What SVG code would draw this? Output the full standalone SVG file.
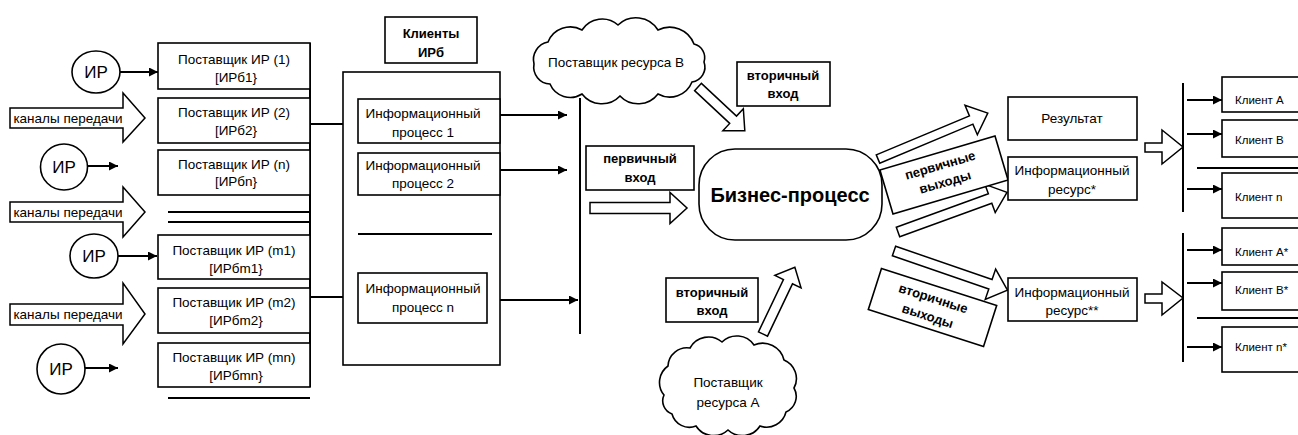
<svg xmlns="http://www.w3.org/2000/svg" width="1298" height="435" viewBox="0 0 1298 435">
  <style>
    .box { fill: #fff; stroke: #000; stroke-width: 1.6; }
    .blk { fill: #fff; stroke: #000; stroke-width: 1.5; }
    .ln { fill: none; stroke: #000; stroke-width: 2; }
    .arr { fill: none; stroke: #000; stroke-width: 2; marker-end: url(#ah); }
    .t { font-family: "Liberation Sans", Arial, sans-serif; font-size: 13.5px; text-anchor: middle; fill: #000; }
    .b { font-weight: bold; font-size: 13px; }
    .s { font-size: 11.5px; text-anchor: start; }
    .ir { font-size: 17px; }
    .big { font-size: 20px; font-weight: bold; }
  </style>
  <defs>
    <marker id="ah" viewBox="0 0 10 10" refX="10" refY="5" markerWidth="9" markerHeight="9" markerUnits="userSpaceOnUse" orient="auto">
      <path d="M0,0 L10,5 L0,10 z" fill="#000"/>
    </marker>
  </defs>

  <!-- connectors -->
  <g id="connectors">
    <!-- sources to suppliers -->
    <line class="arr" x1="120" y1="72" x2="158" y2="72"/>
    <line class="arr" x1="87" y1="166" x2="118" y2="166"/>
    <line class="arr" x1="118" y1="256" x2="157" y2="256"/>
    <line class="arr" x1="85" y1="368" x2="118" y2="368"/>
    <!-- small arrows inside supplier boxes -->
    <line class="arr" x1="272" y1="78" x2="305" y2="78"/>
    <line class="arr" x1="272" y1="130" x2="305" y2="130"/>
    <line class="arr" x1="272" y1="182" x2="305" y2="182"/>
    <line class="arr" x1="272" y1="268" x2="305" y2="268"/>
    <line class="arr" x1="272" y1="317" x2="305" y2="317"/>
    <line class="arr" x1="272" y1="372" x2="305" y2="372"/>
    <!-- supplier column edge and separators -->
    <line class="ln" x1="310" y1="43" x2="310" y2="387"/>
    <line class="ln" x1="168" y1="212" x2="310" y2="212"/>
    <line class="ln" x1="168" y1="222" x2="310" y2="222"/>
    <line class="ln" x1="168" y1="398" x2="310" y2="398"/>
    <!-- suppliers to information processes -->
    <line class="arr" x1="310" y1="124" x2="358" y2="124"/>
    <line class="arr" x1="310" y1="297" x2="358" y2="297"/>
    <!-- information processes to collector -->
    <line class="arr" x1="500" y1="115" x2="567" y2="115"/>
    <line class="arr" x1="500" y1="170" x2="567" y2="170"/>
    <line class="arr" x1="500" y1="300" x2="578" y2="300"/>
    <line class="ln" x1="580" y1="98" x2="580" y2="334"/>
    <!-- client distribution -->
    <line class="ln" x1="1183" y1="83" x2="1183" y2="212"/>
    <line class="ln" x1="1183" y1="233" x2="1183" y2="362"/>
    <line class="ln" x1="1197" y1="168" x2="1298" y2="168"/>
    <line class="ln" x1="1197" y1="318" x2="1298" y2="318"/>
    <line class="arr" x1="1187" y1="100" x2="1222" y2="100"/>
    <line class="arr" x1="1187" y1="134" x2="1222" y2="134"/>
    <line class="arr" x1="1187" y1="189" x2="1222" y2="189"/>
    <line class="arr" x1="1187" y1="250" x2="1222" y2="250"/>
    <line class="arr" x1="1187" y1="283" x2="1222" y2="283"/>
    <line class="arr" x1="1187" y1="347" x2="1222" y2="347"/>

    <!-- block arrows -->
    <polygon class="blk" transform="translate(698,87) rotate(43)" points="0,-5 48,-5 48,-15 64,0 48,15 48,5 0,5"/>
    <polygon class="blk" transform="translate(590,208)" points="0,-5.5 80,-5.5 80,-15.5 97,0 80,15.5 80,5.5 0,5.5"/>
    <polygon class="blk" transform="translate(763,334) rotate(-64.5)" points="0,-5 58,-5 58,-14.5 74,0 58,14.5 58,5 0,5"/>
    <polygon class="blk" transform="translate(878,159) rotate(-22.7)" points="0,-4.5 101,-4.5 101,-16 119,0 101,16 101,4.5 0,4.5"/>
    <polygon class="blk" transform="translate(898,232) rotate(-20)" points="0,-5 98,-5 98,-15 116,0 98,15 98,5 0,5"/>
    <polygon class="blk" transform="translate(894,251) rotate(19)" points="0,-5 102,-5 102,-16 120,0 102,16 102,5 0,5"/>
    <polygon class="blk" points="1145,143 1162,143 1162,130 1183,147 1162,164 1162,152 1145,152"/>
    <polygon class="blk" points="1145,294 1162,294 1162,282 1183,298 1162,315 1162,303 1145,303"/>
  </g>

  <!-- information resource sources -->
  <g id="ir1"><ellipse class="box" cx="96" cy="72" rx="24" ry="21"/><text class="t ir" x="96" y="78">ИР</text></g>
  <g id="ir2"><ellipse class="box" cx="64" cy="167" rx="23.5" ry="23"/><text class="t ir" x="64" y="173">ИР</text></g>
  <g id="ir3"><ellipse class="box" cx="94" cy="256" rx="24" ry="22"/><text class="t ir" x="94" y="262">ИР</text></g>
  <g id="ir4"><ellipse class="box" cx="61" cy="369" rx="24" ry="25"/><text class="t ir" x="61" y="375">ИР</text></g>

  <!-- transmission channels -->
  <g id="channel1"><polygon class="blk" points="10,108 123,108 123,93 145,118 123,142 123,128 10,128"/><text class="t" x="68" y="123">каналы передачи</text></g>
  <g id="channel2"><polygon class="blk" points="10,202 123,202 123,187 145,212 123,237 123,222 10,222"/><text class="t" x="68" y="217">каналы передачи</text></g>
  <g id="channel3"><polygon class="blk" points="10,304 123,304 123,283 145,314 123,344 123,325 10,325"/><text class="t" x="68" y="319">каналы передачи</text></g>

  <!-- suppliers -->
  <g id="sup1"><rect class="box" x="158" y="43" width="152" height="46"/><text class="t" x="234" y="64">Поставщик ИР (1)</text><text class="t" x="236" y="82">[ИРб1}</text></g>
  <g id="sup2"><rect class="box" x="158" y="98" width="152" height="45"/><text class="t" x="234" y="117">Поставщик ИР (2)</text><text class="t" x="236" y="135">[ИРб2}</text></g>
  <g id="supn"><rect class="box" x="158" y="150" width="152" height="45"/><text class="t" x="234" y="169">Поставщик ИР (n)</text><text class="t" x="236" y="186">[ИРбn}</text></g>
  <g id="supm1"><rect class="box" x="158" y="235" width="152" height="44"/><text class="t" x="234" y="255">Поставщик ИР (m1)</text><text class="t" x="236" y="273">[ИРбm1}</text></g>
  <g id="supm2"><rect class="box" x="158" y="288" width="152" height="45"/><text class="t" x="234" y="307">Поставщик ИР (m2)</text><text class="t" x="236" y="325">[ИРбm2}</text></g>
  <g id="supmn"><rect class="box" x="158" y="343" width="152" height="44"/><text class="t" x="234" y="362">Поставщик ИР (mn)</text><text class="t" x="236" y="380">[ИРбmn}</text></g>

  <!-- clients of information resources -->
  <g id="clients-label"><rect class="box" x="385" y="17" width="92" height="46"/><text class="t b" x="431" y="38">Клиенты</text><text class="t b" x="431" y="57">ИРб</text></g>
  <g id="processes">
    <rect class="box" x="343" y="72" width="157" height="293"/>
    <line class="ln" x1="358" y1="234" x2="492" y2="234"/>
  </g>
  <g id="proc1"><rect class="box" x="358" y="99" width="142" height="44"/><text class="t" x="423" y="118">Информационный</text><text class="t" x="423" y="137">процесс 1</text></g>
  <g id="proc2"><rect class="box" x="358" y="153" width="142" height="42"/><text class="t" x="423" y="170">Информационный</text><text class="t" x="423" y="188">процесс 2</text></g>
  <g id="procn"><rect class="box" x="358" y="273" width="129" height="50"/><text class="t" x="423" y="293">Информационный</text><text class="t" x="423" y="312">процесс n</text></g>

  <!-- resource suppliers -->
  <g id="supplier-b">
    <path class="box" d="M534,64 A18,18 0 0,1 548,42 A24,24 0 0,1 582,30 A24,24 0 0,1 618,25 A26,26 0 0,1 658,30 A26,26 0 0,1 694,44 A14,14 0 0,1 704,62 A15,15 0 0,1 692,82 A24,24 0 0,1 658,94 A25,25 0 0,1 620,96 A25,25 0 0,1 582,94 A22,22 0 0,1 550,84 A17,17 0 0,1 534,64 Z"/>
    <text class="t" x="616" y="67">Поставщик ресурса B</text>
  </g>
  <g id="supplier-a">
    <path class="box" d="M664,395 A20,20 0 0,1 668,366 A19,19 0 0,1 690,348 A21,21 0 0,1 722,342 A21,21 0 0,1 754,345 A22,22 0 0,1 784,360 A20,20 0 0,1 794,388 A17,17 0 0,1 786,412 A20,20 0 0,1 760,426 A21,21 0 0,1 728,430 A21,21 0 0,1 696,426 A18,18 0 0,1 672,414 A14,14 0 0,1 664,395 Z"/>
    <text class="t" x="728" y="387">Поставщик</text>
    <text class="t" x="728" y="407">ресурса А</text>
  </g>

  <!-- inputs -->
  <g id="secondary-in-top"><rect class="box" x="737" y="62" width="93" height="44"/><text class="t b" x="783" y="80">вторичный</text><text class="t b" x="783" y="98">вход</text></g>
  <g id="primary-in"><rect class="box" x="586" y="146" width="108" height="44"/><text class="t b" x="640" y="163">первичный</text><text class="t b" x="640" y="182">вход</text></g>
  <g id="secondary-in-bottom"><rect class="box" x="666" y="278" width="92" height="44"/><text class="t b" x="712" y="297">вторичный</text><text class="t b" x="712" y="315">вход</text></g>

  <!-- business process -->
  <g id="business-process"><rect class="box" x="699" y="149" width="183" height="91" rx="36" ry="36"/><text class="t big" x="790" y="202">Бизнес-процесс</text></g>

  <!-- outputs -->
  <g id="primary-out" transform="translate(944,175) rotate(-16.5)">
    <rect class="box" x="-60" y="-23" width="120" height="46"/>
    <text class="t b" x="-1" y="-6">первичные</text>
    <text class="t b" x="-1" y="11.5">выходы</text>
  </g>
  <g id="secondary-out" transform="translate(932.5,307.5) rotate(17.8)">
    <rect class="box" x="-60.5" y="-21.5" width="121" height="43"/>
    <text class="t b" x="-2" y="-4.5">вторичные</text>
    <text class="t b" x="-2" y="14">выходы</text>
  </g>

  <g id="result"><rect class="box" x="1008" y="97" width="129" height="43"/><text class="t" x="1072" y="123">Результат</text></g>
  <g id="resource1"><rect class="box" x="1008" y="157" width="129" height="43"/><text class="t" x="1072" y="175">Информационный</text><text class="t" x="1072" y="194">ресурс*</text></g>
  <g id="resource2"><rect class="box" x="1008" y="278" width="129" height="43"/><text class="t" x="1072" y="297">Информационный</text><text class="t" x="1072" y="315">ресурс**</text></g>

  <!-- clients -->
  <g id="client-a"><rect class="box" x="1222" y="77" width="90" height="35"/><text class="t s" x="1235" y="104">Клиент А</text></g>
  <g id="client-b"><rect class="box" x="1222" y="120" width="90" height="37"/><text class="t s" x="1235" y="144">Клиент B</text></g>
  <g id="client-n"><rect class="box" x="1222" y="173" width="90" height="45"/><text class="t s" x="1235" y="201">Клиент n</text></g>
  <g id="client-a2"><rect class="box" x="1222" y="228" width="90" height="37"/><text class="t s" x="1235" y="256">Клиент A*</text></g>
  <g id="client-b2"><rect class="box" x="1222" y="272" width="90" height="38"/><text class="t s" x="1235" y="294">Клиент B*</text></g>
  <g id="client-n2"><rect class="box" x="1222" y="327" width="90" height="45"/><text class="t s" x="1235" y="351">Клиент n*</text></g>
</svg>
